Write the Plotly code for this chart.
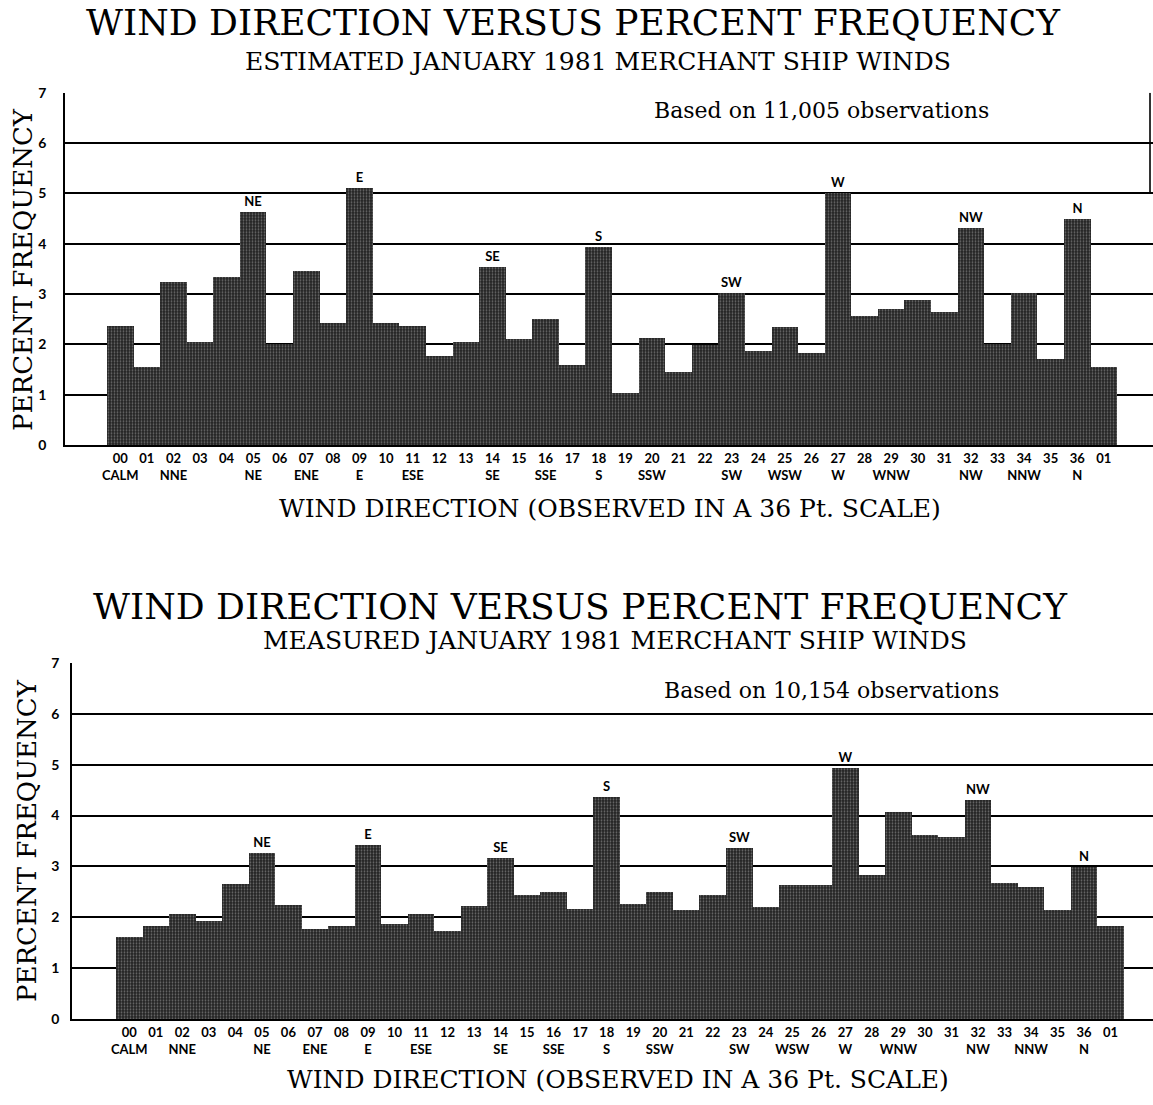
import plotly.graph_objects as go

# Wind direction codes on the 36-point scale (00 = calm, 01 repeated at the end)
codes = ["00", "01", "02", "03", "04", "05", "06", "07", "08", "09",
         "10", "11", "12", "13", "14", "15", "16", "17", "18", "19",
         "20", "21", "22", "23", "24", "25", "26", "27", "28", "29",
         "30", "31", "32", "33", "34", "35", "36", "01"]

# Compass names printed under some of the codes
compass = ["CALM", "", "NNE", "", "", "NE", "", "ENE", "", "E",
           "", "ESE", "", "", "SE", "", "SSE", "", "S", "",
           "SSW", "", "", "SW", "", "WSW", "", "W", "", "WNW",
           "", "", "NW", "", "NNW", "", "N", ""]

# Labels shown above the cardinal / intercardinal peaks
peak_labels = ["", "", "", "", "", "NE", "", "", "", "E",
               "", "", "", "", "SE", "", "", "", "S", "",
               "", "", "", "SW", "", "", "", "W", "", "",
               "", "", "NW", "", "", "", "N", ""]

# Percent frequency, estimated winds (11,005 observations)
estimated_pct = [2.37, 1.55, 3.24, 2.06, 3.34, 4.63, 2.02, 3.46, 2.43, 5.12,
                 2.43, 2.38, 1.77, 2.05, 3.55, 2.11, 2.52, 1.59, 3.94, 1.05,
                 2.13, 1.45, 2.00, 3.03, 1.87, 2.35, 1.83, 5.01, 2.58, 2.71,
                 2.89, 2.66, 4.32, 2.02, 3.03, 1.72, 4.50, 1.55]

# Percent frequency, measured winds (10,154 observations)
measured_pct = [1.62, 1.83, 2.08, 1.94, 2.66, 3.26, 2.25, 1.77, 1.83, 3.43,
                1.87, 2.08, 1.73, 2.23, 3.17, 2.45, 2.50, 2.16, 4.36, 2.26,
                2.50, 2.14, 2.44, 3.36, 2.21, 2.64, 2.64, 4.94, 2.84, 4.08,
                3.62, 3.58, 4.31, 2.68, 2.61, 2.14, 2.99, 1.84]

y_ticks = [0, 1, 2, 3, 4, 5, 6, 7]

W, H = 1153, 1105
SERIF = "DejaVu Serif"
SANS = "Lato"


def px_x(x):
    return x / W


def px_y(y):
    return 1 - y / H


positions = list(range(len(codes)))
tick_text = [c if not n else f"{c}<br>{n}" for c, n in zip(codes, compass)]

fig = go.Figure()

bar_style = dict(
    width=1.0,
    marker=dict(
        color="#222222",
        line=dict(width=0),
        pattern=dict(shape=".", fgcolor="#b8b8b8", bgcolor="#222222",
                     size=3, solidity=0.3, fillmode="overlay"),
    ),
    textposition="outside",
    cliponaxis=False,
    textfont=dict(family=SANS, size=13, color="black", weight="bold"),
    hoverinfo="skip",
    showlegend=False,
)

fig.add_trace(go.Bar(x=positions, y=estimated_pct, text=peak_labels,
                     xaxis="x", yaxis="y", **bar_style))
fig.add_trace(go.Bar(x=positions, y=measured_pct, text=peak_labels,
                     xaxis="x2", yaxis="y2", **bar_style))

axis_common = dict(showgrid=False, zeroline=False, showline=True,
                   linecolor="black", linewidth=2, ticks="",
                   tickmode="array", tickvals=positions, ticktext=tick_text,
                   tickangle=0,
                   tickfont=dict(family=SANS, size=13, color="black", weight="bold"))
yaxis_common = dict(range=[0, 7], tickmode="array", tickvals=y_ticks,
                    showgrid=True, gridcolor="black", gridwidth=1.6,
                    zeroline=False, showline=True, linecolor="black",
                    linewidth=1.6, ticks="",
                    tickfont=dict(family=SANS, size=14, color="black", weight="bold"))

fig.update_layout(
    width=W, height=H,
    margin=dict(l=0, r=0, t=0, b=0),
    paper_bgcolor="white", plot_bgcolor="white",
    bargap=0,
    title=dict(text="WIND DIRECTION VERSUS PERCENT FREQUENCY",
               font=dict(family=SERIF, size=36, color="black"),
               xref="paper", x=px_x(573), xanchor="center",
               yref="container", y=px_y(22), yanchor="middle", pad=dict(t=0, b=0)),
    xaxis=dict(domain=[px_x(65), 1], range=[-2.08, 38.85], anchor="y",
               **axis_common),
    yaxis=dict(domain=[px_y(443), px_y(85)], anchor="x",
               ticklabelstandoff=14, **yaxis_common),
    xaxis2=dict(domain=[px_x(72), 1], range=[-2.16, 38.6], anchor="y2",
                **axis_common),
    yaxis2=dict(domain=[px_y(1026), px_y(664)], anchor="x2",
                ticklabelstandoff=8, **yaxis_common),
)

annotations = []


def text(x, y, s, size, family=SERIF, angle=0, yanchor="middle"):
    annotations.append(dict(x=px_x(x), y=px_y(y), xref="paper", yref="paper",
                            text=s, showarrow=False, textangle=angle,
                            xanchor="center", yanchor=yanchor,
                            font=dict(family=family, size=size, color="black")))


# Upper chart text (main title is the layout title)
text(598, 53, "ESTIMATED JANUARY 1981 MERCHANT SHIP WINDS", 25)
text(821, 103, "Based on 11,005 observations", 22)
text(610, 507, "WIND DIRECTION (OBSERVED IN A 36 Pt. SCALE)", 25)
text(23, 265, "PERCENT FREQUENCY", 26, angle=-90)

# Lower chart text
text(580, 607, "WIND DIRECTION VERSUS PERCENT FREQUENCY", 36)
text(615, 641, "MEASURED JANUARY 1981 MERCHANT SHIP WINDS", 25)
text(831, 692, "Based on 10,154 observations", 22)
text(618, 1087, "WIND DIRECTION (OBSERVED IN A 36 Pt. SCALE)", 25)
text(27, 845, "PERCENT FREQUENCY", 26, angle=-90)

fig.update_layout(annotations=annotations)

# Right edge of the observation-count box in the upper chart
fig.add_shape(type="line", xref="paper", yref="y", x0=px_x(1150), x1=px_x(1150),
              y0=5, y1=7, line=dict(color="black", width=1.6))

fig.write_html("out.html")
